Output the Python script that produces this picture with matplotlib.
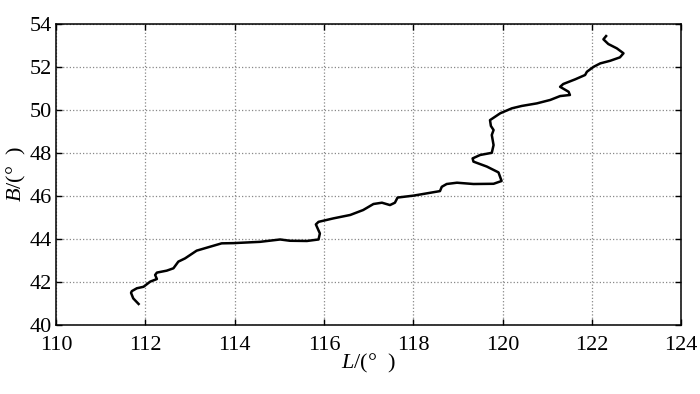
import matplotlib
matplotlib.use("Agg")
import matplotlib.pyplot as plt

plt.rcParams['font.family'] = ['Liberation Serif', 'DejaVu Serif']
plt.rcParams['mathtext.fontset'] = 'custom'
plt.rcParams['mathtext.rm'] = 'Liberation Serif'
plt.rcParams['mathtext.it'] = 'Liberation Serif:italic'

# track (longitude L, latitude B)
lon = [111.85, 111.73, 111.68, 111.70, 111.81, 111.96, 112.11, 112.26, 112.22, 112.26,
       112.48, 112.63, 112.74, 112.89, 113.15, 113.38, 113.71, 113.97, 114.57, 115.02,
       115.24, 115.62, 115.88, 115.91, 115.82, 115.88, 116.21, 116.59, 116.88, 117.11,
       117.30, 117.48, 117.59, 117.65, 118.01, 118.60, 118.64, 118.75, 118.98, 119.35,
       119.80, 119.98, 119.91, 119.65, 119.35, 119.33, 119.50, 119.76, 119.80, 119.76,
       119.80, 119.74, 119.72, 119.95, 120.21, 120.43, 120.77, 121.07, 121.29, 121.51,
       121.48, 121.29, 121.36, 121.63, 121.85, 121.89, 122.04, 122.19, 122.41, 122.63,
       122.71, 122.56, 122.37, 122.26, 122.32]
lat = [40.98, 41.24, 41.50, 41.58, 41.71, 41.78, 42.02, 42.14, 42.33, 42.44,
       42.53, 42.64, 42.95, 43.10, 43.46, 43.60, 43.80, 43.81, 43.87, 43.98,
       43.92, 43.91, 43.98, 44.26, 44.68, 44.80, 44.96, 45.12, 45.35, 45.63,
       45.69, 45.58, 45.69, 45.93, 46.02, 46.23, 46.43, 46.56, 46.62, 46.56,
       46.57, 46.70, 47.10, 47.37, 47.60, 47.75, 47.91, 48.01, 48.37, 48.84,
       49.07, 49.26, 49.53, 49.85, 50.08, 50.19, 50.31, 50.47, 50.65, 50.70,
       50.85, 51.08, 51.21, 51.43, 51.63, 51.78, 52.01, 52.17, 52.29, 52.45,
       52.64, 52.87, 53.07, 53.29, 53.44]

xticks = [110, 112, 114, 116, 118, 120, 122, 124]
yticks = [40, 42, 44, 46, 48, 50, 52, 54]

fig = plt.figure(figsize=(7, 3.94), dpi=100)
ax = fig.add_axes([0.08, 0.175, 0.893, 0.764])

ax.plot(lon, lat, color='black', linewidth=1.8, solid_joinstyle='round')

ax.set_xlim(110, 124)
ax.set_ylim(40, 54)
ax.set_xticks(xticks)
ax.set_yticks(yticks)
ax.grid(True, linestyle=':', color='#888888', linewidth=0.9)
ax.tick_params(direction='in', top=True, right=True, length=4, width=1, labelsize=16, pad=3)
ax.tick_params(axis='x', pad=8)
for s in ax.spines.values():
    s.set_linewidth(1.1)

ax.set_xlabel(r'$\mathit{L}$/(°  )', fontsize=16, labelpad=-2)
ax.set_ylabel(r'$\mathit{B}$/(°  )', fontsize=16, labelpad=1)

fig.savefig('out.png', dpi=100)
